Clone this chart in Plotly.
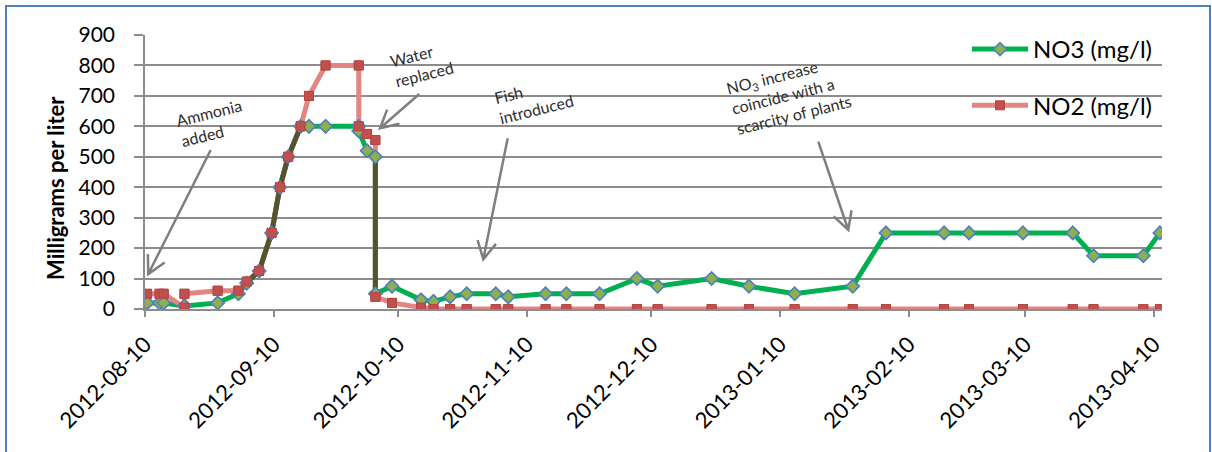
import numpy as np
import pandas as pd
import plotly.graph_objects as go

# Sample dates (repeated dates hold the before/after readings of the same day)
dates = [
    "2012-08-10", "2012-08-13", "2012-08-14", "2012-08-19", "2012-08-19",
    "2012-08-27", "2012-09-01", "2012-09-03", "2012-09-06", "2012-09-09",
    "2012-09-11", "2012-09-13", "2012-09-16", "2012-09-18", "2012-09-22",
    "2012-09-30", "2012-09-30", "2012-10-02", "2012-10-04", "2012-10-04",
    "2012-10-08", "2012-10-15", "2012-10-18", "2012-10-22", "2012-10-26",
    "2012-11-02", "2012-11-05", "2012-11-14", "2012-11-19", "2012-11-27",
    "2012-12-06", "2012-12-11", "2012-12-24", "2013-01-02", "2013-01-13",
    "2013-01-27", "2013-02-04", "2013-02-18", "2013-02-24", "2013-03-09",
    "2013-03-21", "2013-03-26", "2013-04-07", "2013-04-11",
]
no3 = [
    20, 20, 20, 10, 10,
    20, 50, 85, 125, 250,
    400, 500, 600, 600, 600,
    600, 585, 520, 500, 50,
    75, 30, 25, 40, 50,
    50, 40, 50, 50, 50,
    100, 75, 100, 75, 50,
    75, 250, 250, 250, 250,
    250, 175, 175, 250,
]
no2 = [
    50, 50, 50, 5, 50,
    60, 60, 90, 125, 250,
    400, 500, 600, 700, 800,
    800, 600, 575, 555, 40,
    20, 5, 0, 0, 0,
    0, 0, 0, 0, 0,
    0, 0, 0, 0, 0,
    0, 0, 0, 0, 0,
    0, 0, 0, 0,
]
tick_dates = [
    "2012-08-10", "2012-09-10", "2012-10-10", "2012-11-10", "2012-12-10",
    "2013-01-10", "2013-02-10", "2013-03-10", "2013-04-10",
]
y_ticks = [0, 100, 200, 300, 400, 500, 600, 700, 800, 900]

NO3_NAME = "NO3 (mg/l)"
NO2_NAME = "NO2 (mg/l)"

GREEN = "#00B050"
PINK = "#E38583"
RED = "#C0504D"
OLIVE = "#55532E"
GRID = "#8C8C8C"
FONT = "Lato"

x = pd.to_datetime(dates)
half_day = pd.Timedelta(hours=12)

# Figure geometry (pixels)
W, H = 1212, 452
ML, MR, MT, MB = 145, 50, 35, 143
PW, PH = W - ML - MR, H - MT - MB


def px(xp, yp):
    """Figure pixel -> paper coordinates."""
    return (xp - ML) / PW, (H - MB - yp) / PH


# Segments where both series run on top of each other are shown darker
ov_x, ov_y = [], []
for i in range(len(x) - 1):
    a0, a1, b0, b1 = no3[i], no3[i + 1], no2[i], no2[i + 1]
    if x[i] == x[i + 1]:
        lo = max(min(a0, a1), min(b0, b1))
        hi = min(max(a0, a1), max(b0, b1))
        if hi - lo > 0:
            ov_x += [x[i], x[i], None]
            ov_y += [hi, lo, None]
    elif abs(a0 - b0) <= 5 and abs(a1 - b1) <= 5:
        ov_x += [x[i], x[i + 1], None]
        ov_y += [(a0 + b0) / 2, (a1 + b1) / 2, None]

no3_marker = dict(symbol="diamond", size=10, color="#8DB04E",
                  line=dict(color="#4F81BD", width=1.5))
no2_marker = dict(symbol="square", size=9, color=RED,
                  line=dict(color="#B84542", width=1))

fig = go.Figure()
fig.add_trace(go.Scatter(x=x, y=no3, name=NO3_NAME, mode="lines+markers",
                         line=dict(color=GREEN, width=5), marker=no3_marker,
                         legendgroup="a"))
fig.add_trace(go.Scatter(x=x, y=no2, name=NO2_NAME, mode="lines+markers",
                         line=dict(color=PINK, width=5), marker=no2_marker,
                         legendgroup="b"))
fig.add_trace(go.Scatter(x=ov_x, y=ov_y, mode="lines", showlegend=False,
                         line=dict(color=OLIVE, width=5), hoverinfo="skip"))
fig.add_trace(go.Scatter(x=x, y=no3, mode="markers", marker=no3_marker,
                         showlegend=False, hoverinfo="skip"))
fig.add_trace(go.Scatter(x=x, y=no2, mode="markers", marker=no2_marker,
                         showlegend=False, hoverinfo="skip"))

tickvals = pd.to_datetime(tick_dates) - half_day

fig.update_xaxes(
    type="date",
    range=[x[0] - half_day, x[-1] + half_day],
    tickvals=tickvals, ticktext=tick_dates, tickangle=-45,
    tickfont=dict(family=FONT, size=22, color="black"),
    showgrid=False, zeroline=False,
    showline=True, linecolor=GRID, linewidth=1.5,
    ticks="outside", ticklen=6, tickcolor=GRID, tickwidth=1.5,
    ticklabelstandoff=6,
)
fig.update_yaxes(
    range=[0, 900], tickvals=y_ticks,
    tickfont=dict(family=FONT, size=21, color="black"),
    showgrid=True, gridcolor=GRID, gridwidth=1.6, zeroline=False,
    showline=True, linecolor=GRID, linewidth=1.5,
    ticks="outside", ticklen=9, tickcolor=GRID, tickwidth=1.5,
    ticklabelstandoff=15,
)

# Callout notes
notes = [
    ("Ammonia<br>added", 211, 123),
    ("Water<br>replaced", 422, 64),
    ("Fish<br>introduced", 534, 99),
    ("NO<sub>3</sub> increase<br>coincide with a<br>scarcity of plants", 789, 94),
]
annotations = []
for text, xp, yp in notes:
    ax_, ay_ = px(xp, yp)
    annotations.append(dict(
        text=text, x=ax_, y=ay_, xref="paper", yref="paper",
        xanchor="center", yanchor="middle", align="left", showarrow=False,
        textangle=-14, font=dict(family=FONT, size=16, color="#2E2E2E"),
    ))
ytx, yty = px(56, 188)
annotations.append(dict(
    text="<b>Milligrams per liter</b>", x=ytx, y=yty, xref="paper", yref="paper",
    xanchor="center", yanchor="middle", showarrow=False, textangle=-90,
    font=dict(family=FONT, size=22, color="black"),
))

# Arrows: (tail, tip) in pixels, drawn with an open V head
arrows = [
    ((210.7, 150.0), (148.3, 274.0)),
    ((419.3, 94.0), (380.0, 128.3)),
    ((507.7, 138.3), (483.3, 259.3)),
    ((818.3, 141.7), (848.3, 230.0)),
]
shapes = []
for (tx, ty), (hx, hy) in arrows:
    ang = np.arctan2(ty - hy, tx - hx)
    arm, spread = 20, np.radians(28)
    l1 = (hx + arm * np.cos(ang + spread), hy + arm * np.sin(ang + spread))
    l2 = (hx + arm * np.cos(ang - spread), hy + arm * np.sin(ang - spread))
    p = [px(*pt) for pt in [(tx, ty), (hx, hy), l1, l2]]
    path = (f"M {p[0][0]},{p[0][1]} L {p[1][0]},{p[1][1]} "
            f"M {p[2][0]},{p[2][1]} L {p[1][0]},{p[1][1]} L {p[3][0]},{p[3][1]}")
    shapes.append(dict(type="path", path=path, xref="paper", yref="paper",
                       line=dict(color="#7F7F7F", width=2.5)))

# Chart frame
bx0, by0 = px(6, 6)
bx1, by1 = px(1210, 470)
shapes.append(dict(type="rect", xref="paper", yref="paper",
                   x0=bx0, y0=by1, x1=bx1, y1=by0,
                   line=dict(color="#4F81BD", width=2), layer="below"))

lx, ly = px(967, 27)
fig.update_layout(
    width=W, height=H,
    margin=dict(l=ML, r=MR, t=MT, b=MB, autoexpand=False),
    paper_bgcolor="white", plot_bgcolor="white",
    showlegend=True,
    legend=dict(x=lx, y=ly, xanchor="left", yanchor="top",
                bgcolor="rgba(0,0,0,0)", tracegroupgap=22, itemwidth=56,
                font=dict(family=FONT, size=24, color="black")),
    annotations=annotations, shapes=shapes,
    font=dict(family=FONT),
)

fig.write_html("out.html")
